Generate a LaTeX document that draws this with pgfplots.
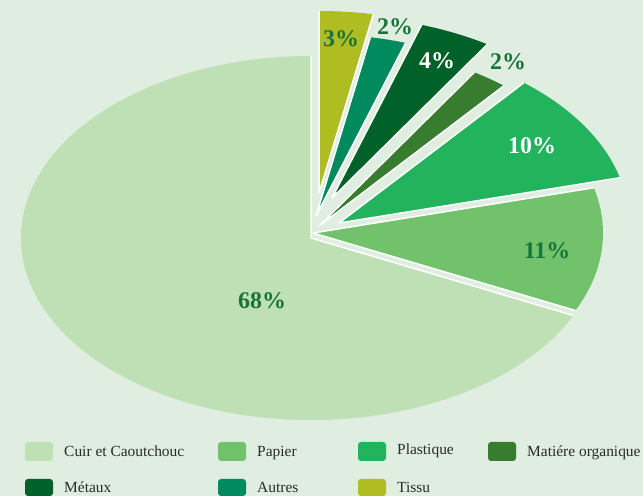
\documentclass[border=0pt]{standalone}
\usepackage{fontspec}
\setmainfont{Liberation Serif}
\usepackage{pgfplots}
\pgfplotsset{compat=1.18}
\usetikzlibrary{calc}
\definecolor{bgc}{HTML}{DFEEE0}
\definecolor{cCuir}{HTML}{BFDFB4}
\definecolor{cPapier}{HTML}{72C26B}
\definecolor{cPlast}{HTML}{22B35C}
\definecolor{cMat}{HTML}{387D2F}
\definecolor{cMet}{HTML}{006228}
\definecolor{cAut}{HTML}{008A5E}
\definecolor{cTis}{HTML}{AFBC22}
\definecolor{lab}{HTML}{17743A}
\definecolor{legtxt}{HTML}{2A2A2A}
% data (percent)
\def\vCuir{68}\def\vPapier{11}\def\vPlast{10}\def\vMat{2}\def\vMet{4}\def\vAut{2}\def\vTis{3}
\pgfmathsetmacro\aA{90}
\pgfmathsetmacro\aB{\aA+3.6*\vCuir}
\pgfmathsetmacro\aC{\aB+3.6*\vPapier}
\pgfmathsetmacro\aD{\aC+3.6*\vPlast}
\pgfmathsetmacro\aE{\aD+3.6*\vMat}
\pgfmathsetmacro\aF{\aE+3.6*\vMet}
\pgfmathsetmacro\aG{\aF+3.6*\vAut}
\pgfmathsetmacro\aH{\aG+3.6*\vTis}
% start, end, colour, dx, dy
\newcommand{\pieslice}[5]{%
  \fill[#3] (axis cs:{311+#4},{258+#5}) -- ++(#1:290bp and 182bp)
     arc[start angle=#1, end angle=#2, x radius=290bp, y radius=182bp] -- cycle;
  \draw[white, line width=1.5bp, line join=round]
     ($(axis cs:{311+#4},{258+#5})+(#1:290bp and 182bp)$) -- (axis cs:{311+#4},{258+#5})
     -- ++(#2:290bp and 182bp);
}
% x of swatch, top, bottom (px), baseline (px), colour, text
\newcommand{\legitem}[6]{%
  \fill[#5, rounded corners=3bp] (axis cs:#1,{496-#2}) rectangle (axis cs:{#1+28},{496-#3});
  \node[anchor=base west, inner sep=0pt, text=legtxt, font=\fontsize{15.5}{18}\selectfont] at (axis cs:{#1+39},{496-#4}) {#6};
}
\begin{document}
\begin{tikzpicture}
\begin{axis}[x=1bp, y=1bp, xmin=0, xmax=643, ymin=0, ymax=496,
  hide axis, clip=false, scale only axis]
\fill[bgc] (axis cs:0,0) rectangle (axis cs:643,496);
\pieslice{\aA}{\aB}{cCuir}{0}{0}
\pieslice{\aB}{\aC}{cPapier}{2}{5}
\pieslice{\aC}{\aD}{cPlast}{28}{15}
\pieslice{\aD}{\aE}{cMat}{8}{12}
\pieslice{\aE}{\aF}{cMet}{21}{40}
\pieslice{\aF}{\aG}{cAut}{5}{22}
\pieslice{\aG}{\aH}{cTis}{8}{45}
\begin{scope}[font=\bfseries\fontsize{24}{28}\selectfont]
\node[text=lab] at (axis cs:262,{496-301}) {68\%};
\node[text=lab] at (axis cs:547,{496-251}) {11\%};
\node[text=white] at (axis cs:532,{496-146}) {10\%};
\node[text=lab] at (axis cs:508,{496-62}) {2\%};
\node[text=white] at (axis cs:437,{496-61}) {4\%};
\node[text=lab] at (axis cs:395,{496-27}) {2\%};
\node[text=lab] at (axis cs:341,{496-39}) {3\%};
\end{scope}
\legitem{25}{442}{461}{457}{cCuir}{Cuir et Caoutchouc}
\legitem{218}{442}{461}{457}{cPapier}{Papier}
\legitem{358}{442}{461}{455}{cPlast}{Plastique}
\legitem{488}{442}{461}{457}{cMat}{Matiére organique}
\legitem{25}{479}{496}{493}{cMet}{Métaux}
\legitem{218}{479}{496}{493}{cAut}{Autres}
\legitem{358}{479}{496}{493}{cTis}{Tissu}
\end{axis}
\end{tikzpicture}
\end{document}
